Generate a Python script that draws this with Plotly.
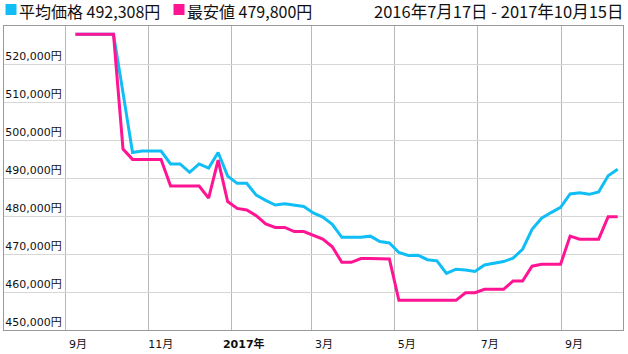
import plotly.graph_objects as go
import pandas as pd

start_date = "2016-09-08"
n_weeks = 58
dates = pd.date_range(start_date, periods=n_weeks, freq="7D")

avg_price = [527800, 527800, 527800, 527800, 527800, 512400, 496700, 497100, 497100, 497100,
             493700, 493700, 491500, 493700, 492600, 496700, 490500, 488600, 488600, 485500,
             484100, 482900, 483200, 482900, 482500, 480800, 479700, 477800, 474400, 474400,
             474400, 474700, 473300, 472900, 470400, 469600, 469700, 468500, 468200, 464900,
             466000, 465800, 465400, 467100, 467500, 468000, 468900, 471200, 476500, 479400,
             480900, 482300, 485800, 486100, 485700, 486300, 490600, 492308]

min_price = [527800, 527800, 527800, 527800, 527800, 497600, 494900, 494900, 494900, 494900,
             487900, 487900, 487900, 487900, 484700, 494700, 483800, 482000, 481600, 480100,
             477900, 477000, 477000, 475900, 475900, 475000, 473900, 471900, 467800, 467800,
             468800, 468800, 468700, 468700, 457800, 457800, 457800, 457800, 457800, 457800,
             457800, 459800, 459800, 460700, 460700, 460700, 462900, 462900, 466800, 467300,
             467300, 467300, 474700, 473900, 473900, 473900, 479800, 479800]

y_ticks = [450000, 460000, 470000, 480000, 490000, 500000, 510000, 520000]
y_tick_text = [f"{v:,}円" for v in y_ticks]

x_ticks = ["2016-09-01", "2016-11-01", "2017-01-01", "2017-03-01", "2017-05-01", "2017-07-01", "2017-09-01"]
x_tick_text = ["9月", "11月", "<b>2017年</b>", "3月", "5月", "7月", "9月"]

legend_avg = "平均価格 492,308円"
legend_min = "最安値 479,800円"
period_text = "2016年7月17日 - 2017年10月15日"

BLUE = "#10BEF5"
PINK = "#FF1493"

fig = go.Figure()
fig.add_trace(go.Scatter(x=dates, y=avg_price, mode="lines",
                         line=dict(color=BLUE, width=3), name=legend_avg))
fig.add_trace(go.Scatter(x=dates, y=min_price, mode="lines",
                         line=dict(color=PINK, width=3), name=legend_min))

W, H = 628, 354
L, R, T, B = 4, 5, 26, 24
pw, ph = W - L - R, H - T - B

def px_x(p):
    return (p - L) / pw

def px_y(p):
    return (H - B - p) / ph

fig.update_layout(
    width=W, height=H,
    margin=dict(l=L, r=R, t=T, b=B),
    paper_bgcolor="white", plot_bgcolor="white",
    showlegend=False,
    xaxis=dict(
        range=["2016-07-17 10:00", "2017-10-15 22:00"],
        tickvals=x_ticks, ticktext=x_tick_text,
        ticklabelshift=12, ticklabelstandoff=4,
        tickfont=dict(family="DejaVu Sans, Noto Sans CJK JP", size=11, color="#111"),
        showgrid=True, gridcolor="#b8b8b8", gridwidth=1,
        showline=True, linecolor="#999", linewidth=1, mirror=True,
        ticks="", zeroline=False,
    ),
    yaxis=dict(
        range=[450000, 530000],
        tickvals=y_ticks, ticktext=y_tick_text,
        ticklabelposition="inside top",
        tickfont=dict(family="DejaVu Sans, Noto Sans CJK JP", size=11, color="#111"),
        showgrid=True, gridcolor="#d6d6d6", gridwidth=1,
        showline=True, linecolor="#999", linewidth=1, mirror=True,
        ticks="", zeroline=False,
    ),
    shapes=[
        dict(type="rect", xref="paper", yref="paper",
             x0=px_x(5.5), x1=px_x(16.5), y0=px_y(15), y1=px_y(4),
             fillcolor=BLUE, line=dict(width=0)),
        dict(type="rect", xref="paper", yref="paper",
             x0=px_x(173.5), x1=px_x(184.5), y0=px_y(15), y1=px_y(4),
             fillcolor=PINK, line=dict(width=0)),
    ],
    annotations=[
        dict(text=legend_avg, xref="paper", yref="paper", x=px_x(18), y=px_y(10.8),
             xanchor="left", yanchor="middle", showarrow=False, borderpad=0,
             font=dict(family="Noto Sans CJK JP", size=16, color="#111")),
        dict(text=legend_min, xref="paper", yref="paper", x=px_x(186), y=px_y(10.8),
             xanchor="left", yanchor="middle", showarrow=False, borderpad=0,
             font=dict(family="Noto Sans CJK JP", size=16, color="#111")),
        dict(text=period_text, xref="paper", yref="paper", x=px_x(624), y=px_y(10.8),
             xanchor="right", yanchor="middle", showarrow=False, borderpad=0,
             font=dict(family="Noto Sans CJK JP", size=16.5, color="#111")),
    ],
)

fig.write_html("out.html")
